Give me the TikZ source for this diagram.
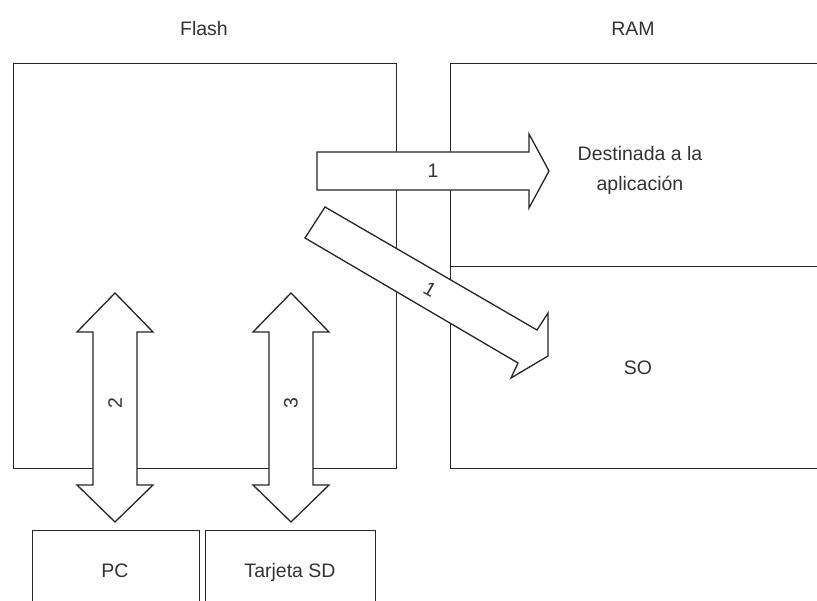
\documentclass[tikz,border=0pt]{standalone}
\usepackage{fontspec}
\setmainfont{Liberation Sans}
\begin{document}
\begin{tikzpicture}[x=1pt,y=-1pt,
  line width=1.3pt,
  every node/.style={font=\fontsize{19.5}{30}\selectfont, text=black!80},
  memory/.style={draw=black!85, line width=1.3pt, inner sep=0pt, anchor=north west},
  bigarrow/.style={draw=black!85, fill=white, line width=1.3pt, line join=miter},
  lbl/.style={inner sep=1pt}]
\useasboundingbox (0,0) rectangle (817,601);
\clip (0,0) rectangle (817,601);
\fill[white] (0,0) rectangle (817,601);

% memory boxes
\node[memory, minimum width=383pt, minimum height=405pt] (flash) at (13,63) {};
\node[memory, minimum width=380pt, minimum height=203pt] (ramapp) at (450,63) {};
\node[memory, minimum width=380pt, minimum height=202pt] (ramso) at (450,266) {};
\node[memory, minimum width=167pt, minimum height=100pt] (pc) at (32,530) {};
\node[memory, minimum width=170pt, minimum height=100pt] (sd) at (205,530) {};

% titles
\node (flashlbl) at (204,29) {Flash};
\node (ramlbl) at (633,29) {RAM};

% texts
\node[align=center] (apptxt) at (640,170) {Destinada a la\\aplicación};
\node (sotxt) at (638,368) {SO};
\node[anchor=base] (pctxt) at (115,577) {PC};
\node[anchor=base] (sdtxt) at (290,577) {Tarjeta SD};

% arrow 1 (horizontal)
\draw[bigarrow] (317,152) -- (529,152) -- (529,134) -- (549,171) -- (529,208)
  -- (529,190) -- (317,190) -- cycle;
\node[lbl] (a1) at (433,171) {1};

% arrow 1 (diagonal)
\draw[bigarrow] (325,207) -- (537,330) -- (548,313) -- (548,356) -- (511,378)
  -- (518,363) -- (305,238) -- cycle;
\node[lbl, rotate=-30] (a1b) at (430,289) {1};

% arrow 2 (PC)
\draw[bigarrow] (115,293) -- (153,332) -- (137,332) -- (137,485) -- (153,485)
  -- (115,522) -- (77,485) -- (93,485) -- (93,332) -- (77,332) -- cycle;
\node[lbl, rotate=90] (a2) at (115,403) {2};

% arrow 3 (SD)
\draw[bigarrow] (291,293) -- (329,332) -- (313,332) -- (313,485) -- (329,485)
  -- (291,522) -- (253,485) -- (269,485) -- (269,332) -- (253,332) -- cycle;
\node[lbl, rotate=90] (a3) at (291,403) {3};
\end{tikzpicture}
\end{document}
